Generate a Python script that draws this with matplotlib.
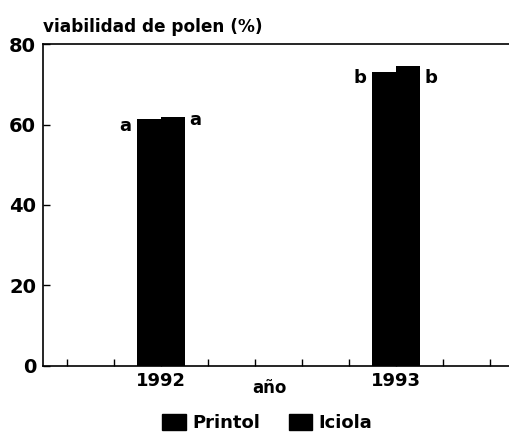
import matplotlib.pyplot as plt
from matplotlib.patches import Patch
import numpy as np

# valores
years = ['1992', '1993']
printol = [61.3, 73.0]
iciola = [61.8, 74.5]
letras_printol = ['a', 'b']
letras_iciola = ['a', 'b']
# altura (linea base) de las letras de significacion
letra_y_printol = [58.3, 70.3]
letra_y_iciola = [59.9, 70.3]

plt.rcParams['font.family'] = ['DejaVu Sans']
plt.rcParams['font.weight'] = 'bold'

fig = plt.figure(figsize=(5.09, 4.32), dpi=100)
ax = fig.add_axes([0.0845, 0.153, 0.9155, 0.745])

pos = np.array([3, 8])
w = 0.51
ax.bar(pos - w / 2, printol, w, color='black', label='Printol')
ax.bar(pos + w / 2, iciola, w, color='black', label='Iciola')

for i in range(len(years)):
    ax.text(pos[i] - w - 0.12, letra_y_printol[i], letras_printol[i], ha='right',
            va='baseline', fontsize=13, fontweight='bold')
    ax.text(pos[i] + w + 0.1, letra_y_iciola[i], letras_iciola[i], ha='left',
            va='baseline', fontsize=13, fontweight='bold')

ax.set_xlim(0.49, 10.4)
ax.set_ylim(0, 80)
ax.set_yticks([0, 20, 40, 60, 80])
ax.set_xticks(np.arange(1, 11))
ax.set_xticklabels([])
ax.tick_params(axis='both', direction='in', length=5, width=1)
ax.tick_params(axis='y', labelsize=14, pad=5)
for lab in ax.get_yticklabels():
    lab.set_fontweight('bold')
for i, y in enumerate(years):
    ax.text(pos[i], -1.5, y, ha='center', va='top', fontsize=13, fontweight='bold')
ax.text(5.3, -3.3, 'año', ha='center', va='top', fontsize=12, fontweight='bold')

ax.spines['right'].set_visible(False)
for s in ['left', 'top', 'bottom']:
    ax.spines[s].set_linewidth(1.2)

fig.text(0.0845, 0.917, 'viabilidad de polen (%)', ha='left', va='bottom',
         fontsize=12.2, fontweight='bold')

handles = [Patch(color='black', label='Printol'), Patch(color='black', label='Iciola')]
fig.legend(handles=handles, loc='center', bbox_to_anchor=(0.525, 0.02), ncol=2,
           frameon=False, fontsize=13, handlelength=1.3, handleheight=1.0,
           columnspacing=1.6, handletextpad=0.35, borderaxespad=0, borderpad=0)

fig.savefig('out.png', dpi=100)
